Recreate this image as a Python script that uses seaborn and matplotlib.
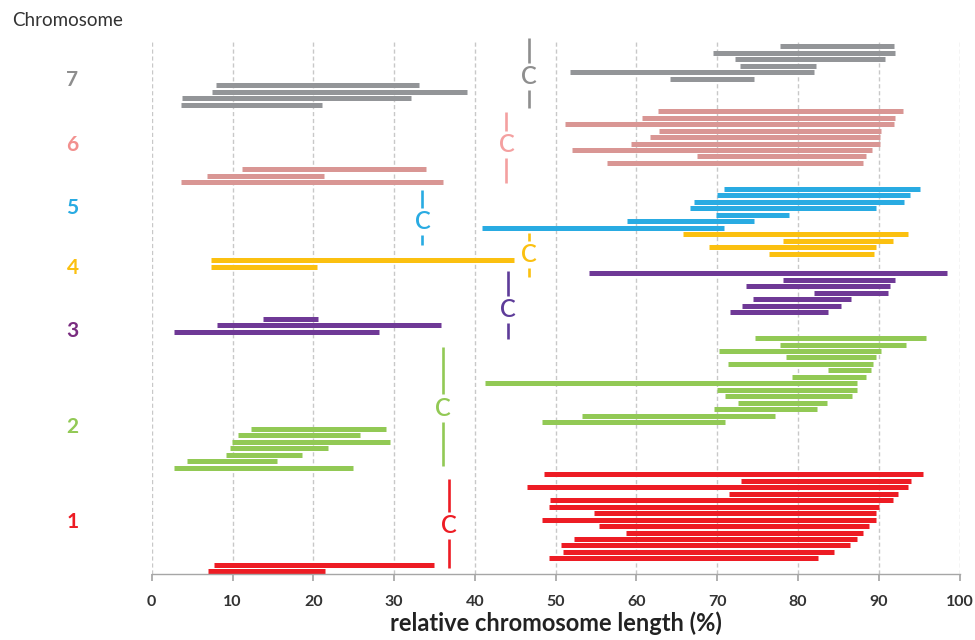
import pandas as pd
import matplotlib
matplotlib.use("Agg")
import matplotlib.pyplot as plt
import seaborn as sns

# chromosomes listed top -> bottom, bars within each chromosome top -> bottom
chromosomes = ["7", "6", "5", "4", "3", "2", "1"]

chr7_start = [77.8, 69.5, 72.2, 72.8, 51.8, 64.2, 8.0, 7.5, 3.8, 3.6]
chr7_end = [91.9, 92.0, 90.7, 82.2, 82.0, 74.5, 33.1, 39.0, 32.1, 21.1]

chr6_start = [62.7, 60.7, 51.2, 62.8, 61.7, 59.3, 52.0, 67.5, 56.4, 11.2, 6.8, 3.6]
chr6_end = [93.0, 92.0, 91.9, 90.3, 90.1, 90.1, 89.1, 88.4, 88.0, 33.9, 21.3, 36.0]

chr5_start = [70.8, 70.0, 67.1, 66.6, 69.8, 58.8, 40.9]
chr5_end = [95.1, 93.8, 93.1, 89.6, 78.9, 74.5, 70.8]

chr4_start = [65.8, 78.1, 69.0, 76.4, 7.3, 7.3]
chr4_end = [93.6, 91.7, 89.7, 89.4, 44.8, 20.5]

chr3_start = [54.1, 78.1, 73.6, 82.0, 74.4, 73.1, 71.6, 13.8, 8.1, 2.8]
chr3_end = [98.4, 92.0, 91.4, 91.1, 86.5, 85.3, 83.7, 20.6, 35.8, 28.1]

chr2_start = [74.7, 77.7, 70.2, 78.5, 71.3, 83.7, 79.2, 41.2, 70.0, 70.9, 72.6,
              69.6, 53.2, 48.3, 12.3, 10.7, 9.9, 9.7, 9.2, 4.4, 2.8]
chr2_end = [95.8, 93.3, 90.2, 89.6, 89.3, 89.0, 88.4, 87.3, 87.3, 86.7, 83.6,
            82.3, 77.1, 70.9, 29.0, 25.8, 29.5, 21.8, 18.6, 15.5, 24.9]

chr1_start = [48.6, 72.9, 46.4, 71.4, 49.3, 49.2, 54.7, 48.3, 55.4, 58.7, 52.3,
              50.7, 50.9, 49.2, 7.7, 7.0]
chr1_end = [95.5, 94.0, 93.6, 92.4, 91.7, 90.0, 89.7, 89.7, 88.8, 88.0, 87.3,
            86.4, 84.4, 82.5, 34.9, 21.5]

# centromere position (%) per chromosome
centromere_pos = [46.7, 43.9, 33.5, 46.7, 44.1, 36.0, 36.8]

all_start = [chr7_start, chr6_start, chr5_start, chr4_start, chr3_start, chr2_start, chr1_start]
all_end = [chr7_end, chr6_end, chr5_end, chr4_end, chr3_end, chr2_end, chr1_end]

bar_colors = {"7": "#939598", "6": "#d99694", "5": "#29abe2", "4": "#fbc010",
              "3": "#6f3996", "2": "#92c955", "1": "#ed1c24"}
label_colors = {"7": "#8e8e8e", "6": "#f2908e", "5": "#29abe2", "4": "#fbc010",
                "3": "#7a2d80", "2": "#92c955", "1": "#ed1c24"}
cen_colors = {"7": "#8e8e8e", "6": "#f4a0a0", "5": "#29abe2", "4": "#fbc010",
              "3": "#5e3c99", "2": "#92c955", "1": "#ed1c24"}

# layout (row units): centromere marker extents, label rows
cen_top = [-1.3, 10.1, 22.2, 28.8, 34.7, 46.4, 66.8]
cen_mid = [4.7, 15.2, 27.0, 32.1, 40.6, 55.8, 73.9]
cen_bot = [9.5, 21.1, 30.7, 35.6, 45.2, 64.8, 80.5]
label_row = [5.2, 15.2, 25.0, 34.2, 43.9, 58.8, 73.3]

# long form: two points (start, end) per bar
recs = []
bar = 0
for chrom, starts, ends in zip(chromosomes, all_start, all_end):
    for s, e in zip(starts, ends):
        recs.append({"bar": bar, "row": bar, "chrom": chrom, "pos": s})
        recs.append({"bar": bar, "row": bar, "chrom": chrom, "pos": e})
        bar += 1
df = pd.DataFrame(recs)

sns.set_theme(style="white")
plt.rcParams["font.family"] = ["Lato", "DejaVu Sans"]

fig = plt.figure(figsize=(9.75, 6.4), dpi=100)
ax = fig.add_axes([0.1556, 0.1031, 0.8287, 0.8313])

sns.lineplot(data=df, x="pos", y="row", units="bar", hue="chrom", estimator=None,
             sort=False, palette=bar_colors, linewidth=3.6, legend=False, ax=ax,
             solid_capstyle="butt")

for i, chrom in enumerate(chromosomes):
    cx = centromere_pos[i]
    c = cen_colors[chrom]
    gap = 2.1
    ax.vlines(cx, cen_top[i], cen_mid[i] - gap, color=c, lw=1.9, clip_on=False)
    ax.vlines(cx, cen_mid[i] + gap, cen_bot[i], color=c, lw=1.9, clip_on=False)
    ax.text(cx, cen_mid[i], "C", ha="center", va="center", color=c, fontsize=17,
            fontweight="semibold")
    ax.text(-9.8, label_row[i], chrom, ha="center", va="center", fontsize=15,
            fontweight="bold", color=label_colors[chrom])

ax.set_xlim(0, 100)
ax.set_ylim(81.4, -0.66)
ax.set_xticks(range(0, 101, 10))
ax.set_yticks([])
ax.set_ylabel("")
ax.grid(axis="x", linestyle=(0, (3, 2)), color="#c8c8c8", linewidth=1)
ax.set_axisbelow(True)
for s in ["top", "right", "left"]:
    ax.spines[s].set_visible(False)
ax.spines["bottom"].set_color("#a6a6a6")
ax.spines["bottom"].set_linewidth(1)
ax.tick_params(axis="x", bottom=True, length=5, color="#a6a6a6", direction="out",
               labelsize=11.5, pad=10, labelcolor="#333333")
for lab in ax.get_xticklabels():
    lab.set_fontweight("bold")
ax.set_xlabel("relative chromosome length (%)", fontsize=17, fontweight="bold",
              color="#222222", labelpad=2)

fig.text(12 / 975, 1 - 20 / 640, "Chromosome", ha="left", va="center", fontsize=13.5,
         color="#333333")

fig.savefig("out.png", dpi=100)
